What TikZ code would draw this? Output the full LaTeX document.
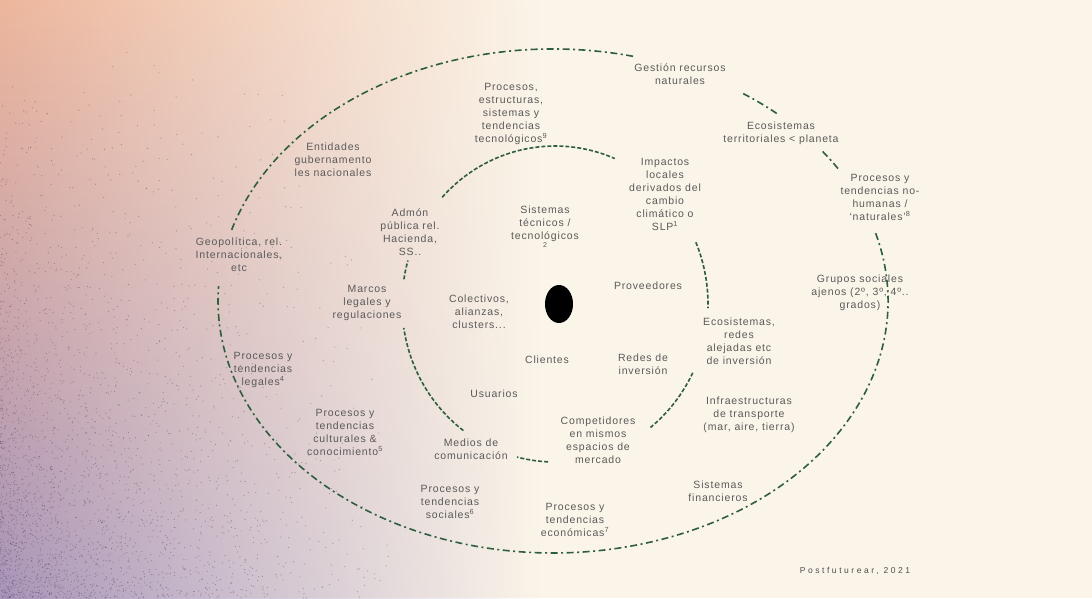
\documentclass[tikz,border=0pt]{standalone}
\usepackage{fontspec}
\setmainfont{Liberation Sans}
\newfontfamily\lblfam[LetterSpace=8]{Liberation Sans}
\newfontfamily\credfam[LetterSpace=30]{Liberation Sans}
\usetikzlibrary{fadings,shapes.geometric,calc}
\definecolor{bgcream}{HTML}{FBF5E9}
\definecolor{cTL}{HTML}{EDB69C}
\definecolor{cML}{HTML}{D5AAAC}
\definecolor{cBL}{HTML}{A895B9}
\definecolor{noisec}{HTML}{4A3A55}
\definecolor{lineg}{HTML}{2E5E3E}
\definecolor{txtgray}{HTML}{5A5A5A}
\tikzfading[name=fadeR, left color=transparent!0, middle color=transparent!70, right color=transparent!100]
\tikzset{
  lbl/.style={font=\lblfam\fontsize{10.5}{13}\selectfont, text=txtgray, align=center, inner sep=1pt},
  outerline/.style={draw=lineg, line width=1.6pt, dash pattern=on 7pt off 3.5pt on 2pt off 3.5pt},
  innerline/.style={draw=lineg, line width=1.6pt, dash pattern=on 4pt off 2pt},
}
\begin{document}
\begin{tikzpicture}[x=1pt,y=-1pt]
\useasboundingbox (0,0) rectangle (1092,598);
% background
\fill[bgcream] (0,0) rectangle (1092,598);
\shade[top color=cTL, middle color=cML, bottom color=cBL, path fading=fadeR] (0,0) rectangle (540,598);
\pgfmathsetseed{42}
\foreach \i in {1,...,2600}{
  \pgfmathsetmacro{\ax}{400*rnd*rnd}
  \pgfmathsetmacro{\ay}{598-560*rnd*rnd}
  \fill[noisec, opacity=0.4] (\ax,\ay) circle (0.6);
}
% outer ellipse (dash-dot), centre O
\coordinate (O) at (553,301);
\draw[outerline] ($(O)+(196.4:335 and 252)$) arc[start angle=196.4, end angle=283.8, x radius=335, y radius=252];
\draw[outerline] ($(O)+(304.6:335 and 252)$) arc[start angle=304.6, end angle=312.5, x radius=335, y radius=252];
\draw[outerline] ($(O)+(323.6:335 and 252)$) arc[start angle=323.6, end angle=328.3, x radius=335, y radius=252];
\draw[outerline] ($(O)+(344.4:335 and 252)$) arc[start angle=344.4, end angle=543.4, x radius=335, y radius=252];
% inner ellipse (dashed), centre I
\coordinate (I) at (555,304);
\draw[innerline] ($(I)+(222.5:153 and 158)$) arc[start angle=222.5, end angle=293, x radius=153, y radius=158];
\draw[innerline] ($(I)+(189:153 and 158)$) arc[start angle=189, end angle=196, x radius=153, y radius=158];
\draw[innerline] ($(I)+(337:153 and 158)$) arc[start angle=337, end angle=361.5, x radius=153, y radius=158];
\draw[innerline] ($(I)+(25.8:153 and 158)$) arc[start angle=25.8, end angle=51.4, x radius=153, y radius=158];
\draw[innerline] ($(I)+(92.6:153 and 158)$) arc[start angle=92.6, end angle=104.4, x radius=153, y radius=158];
\draw[innerline] ($(I)+(126.8:153 and 158)$) arc[start angle=126.8, end angle=171.3, x radius=153, y radius=158];
% core
\node[ellipse, fill=black, minimum width=28pt, minimum height=38pt, inner sep=0pt] (core) at (559,304) {};
% labels
\node[lbl] (gest) at (680,74) {Gestión recursos\\naturales};
\node[lbl] (ecot) at (781,133) {Ecosistemas\\territoriales < planeta};
\node[lbl] (nohum) at (880,197) {Procesos y\\tendencias no-\\humanas /\\‘naturales’\textsuperscript{8}};
\node[lbl] (grup) at (860,293) {Grupos sociales\\ajenos (2º, 3º, 4º..\\grados)};
\node[lbl] (ent) at (333,160) {Entidades\\gubernamento\\les nacionales};
\node[lbl] (geo) at (239,255) {Geopolítica, rel.\\Internacionales,\\etc};
\node[lbl] (adm) at (410,232) {Admón\\pública rel.\\Hacienda,\\SS..};
\node[lbl] (ptec) at (511,114) {Procesos,\\estructuras,\\sistemas y\\tendencias\\tecnológicos\textsuperscript{9}};
\node[lbl] (imp) at (665,194) {Impactos\\locales\\derivados del\\cambio\\climático o\\SLP\textsuperscript{1}};
\node[lbl] (sist) at (545,227) {Sistemas\\técnicos /\\tecnológicos\\[-5pt]{\fontsize{7}{7}\selectfont 2}};
\node[lbl] (prov) at (648,286) {Proveedores};
\node[lbl] (col) at (479,312) {Colectivos,\\alianzas,\\clusters...};
\node[lbl] (cli) at (547,360) {Clientes};
\node[lbl] (red) at (643,364) {Redes de\\inversión};
\node[lbl] (usu) at (494,394) {Usuarios};
\node[lbl] (comp) at (598,440) {Competidores\\en mismos\\espacios de\\mercado};
\node[lbl] (med) at (471,449) {Medios de\\comunicación};
\node[lbl] (ecor) at (739,341) {Ecosistemas,\\redes\\alejadas etc\\de inversión};
\node[lbl] (inf) at (749,415) {Infraestructuras\\de transporte\\(mar, aire, tierra)};
\node[lbl] (fin) at (718,491) {Sistemas\\financieros};
\node[lbl] (peco) at (575,520) {Procesos y\\tendencias\\económicas\textsuperscript{7}};
\node[lbl] (psoc) at (450,502) {Procesos y\\tendencias\\sociales\textsuperscript{6}};
\node[lbl] (pcul) at (345,432) {Procesos y\\tendencias\\culturales \&\\conocimiento\textsuperscript{5}};
\node[lbl] (pleg) at (263,370) {Procesos y\\tendencias\\legales\textsuperscript{4}};
\node[lbl] (mar) at (367,303) {Marcos\\legales y\\regulaciones};
\node[font=\credfam\fontsize{8.5}{10}\selectfont, text=txtgray!85!black, inner sep=0pt] (cred) at (855,571) {Postfuturear, 2021};
\end{tikzpicture}
\end{document}
